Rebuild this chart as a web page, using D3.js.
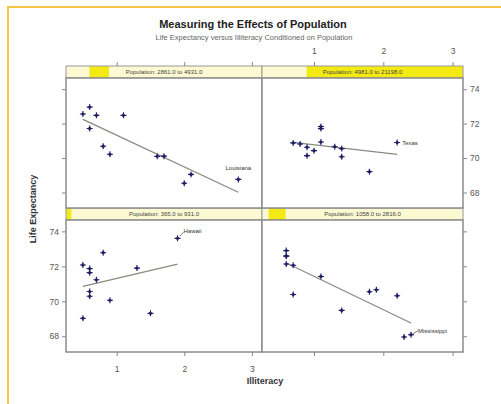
<!DOCTYPE html>
<html lang="en">
<head>
<meta charset="UTF-8" />
<title>Measuring the Effects of Population</title>
<script src="https://d3js.org/d3.v7.min.js"></script>
<style>
  body { margin: 0; background: #fff; }
  svg text { font-family: "Liberation Sans", Arial, sans-serif; }
</style>
</head>
<body>
<script>
// panel order follows lattice: bottom-left, bottom-right, top-left, top-right
const stripLabels = [
  "Population: 365.0 to 931.0",
  "Population: 1058.0 to 2816.0",
  "Population: 2861.0 to 4931.0",
  "Population: 4981.0 to 21198.0"
];
const popLow = [365, 1058, 2861, 4981];
const popHigh = [931, 2816, 4931, 21198];
const popRange = [365, 21198];

const illit1 = [1.5, 0.6, 0.6, 0.9, 0.5, 0.8, 0.5, 0.6, 0.7, 0.6, 1.9, 1.3];
const life1 = [69.31, 70.29, 71.64, 70.06, 69.03, 72.78, 72.08, 70.56, 71.23, 71.87, 73.60, 71.90];
const illit2 = [0.7, 2.2, 0.6, 0.6, 1.4, 1.9, 1.8, 0.6, 0.6, 2.4, 0.7, 1.1, 2.3];
const life2 = [70.39, 70.32, 72.90, 72.60, 69.48, 70.66, 70.55, 72.58, 72.13, 68.09, 72.06, 71.42, 67.96];
const illit3 = [0.5, 1.1, 1.6, 0.6, 2.1, 2.8, 0.6, 0.9, 1.7, 0.7, 0.8, 2.0];
const life3 = [72.56, 72.48, 70.10, 71.72, 69.05, 68.76, 72.96, 70.22, 70.11, 72.48, 70.69, 68.54];
const illit4 = [1.4, 0.7, 1.1, 1.1, 1.8, 0.9, 1.3, 0.8, 0.9, 1.0, 2.2, 1.1, 1.4];
const life4 = [70.08, 70.88, 71.83, 70.93, 69.21, 70.63, 70.66, 70.82, 70.14, 70.43, 70.90, 71.71, 70.55];

// one labelled state per panel
const labelNames = ["Hawaii", "Mississippi", "Louisiana", "Texas"];
const labelIndex = [10, 9, 5, 10];

const xTicks = [1, 2, 3];
const yTicks = [68, 70, 72, 74];

const groups = [[illit1, life1], [illit2, life2], [illit3, life3], [illit4, life4]];

const W = 501, H = 404;
const svg = d3.select("body").append("svg").attr("width", W).attr("height", H);

// outer frame (cut at right/bottom)
svg.append("rect").attr("x", 8).attr("y", 7).attr("width", 520).attr("height", 420)
  .attr("fill", "none").attr("stroke", "#f6c646").attr("stroke-width", 2);

svg.append("text").attr("x", 253).attr("y", 28).attr("text-anchor", "middle")
  .style("font-size", "11px").style("font-weight", "bold").attr("fill", "#222")
  .text("Measuring the Effects of Population");
svg.append("text").attr("x", 254).attr("y", 40).attr("text-anchor", "middle")
  .style("font-size", "7.5px").attr("fill", "#666")
  .text("Life Expectancy versus Illiteracy Conditioned on Population");

const cols = [[66, 262], [262, 463]];
const rows = [ // [stripTop, panelTop, panelBottom]
  [208, 220, 352],
  [66, 78, 208]
];
const xDomain = [0.25, 3.15];
const yDomain = [67.1, 74.65];

const sym = "#1f1f66";

groups.forEach((g, i) => {
  const c = cols[i % 2], r = rows[Math.floor(i / 2)];
  const x = d3.scaleLinear().domain(xDomain).range(c);
  const y = d3.scaleLinear().domain(yDomain).range([r[2], r[1]]);
  const p = d3.scaleLinear().domain(popRange).range(c);

  // strip
  svg.append("rect").attr("x", c[0]).attr("y", r[0]).attr("width", c[1] - c[0]).attr("height", r[1] - r[0])
    .attr("fill", "#fdf9d2");
  svg.append("rect").attr("x", p(popLow[i])).attr("y", r[0]).attr("width", p(popHigh[i]) - p(popLow[i]))
    .attr("height", r[1] - r[0]).attr("fill", "#f3ea14");
  svg.append("rect").attr("x", c[0]).attr("y", r[0]).attr("width", c[1] - c[0]).attr("height", r[1] - r[0])
    .attr("fill", "none").attr("stroke", "#999").attr("stroke-width", 1);
  svg.append("text").attr("x", (c[0] + c[1]) / 2).attr("y", (r[0] + r[1]) / 2 + 2)
    .attr("text-anchor", "middle").style("font-size", "6px").attr("fill", "#444")
    .text(stripLabels[i]);

  // panel box
  svg.append("rect").attr("x", c[0]).attr("y", r[1]).attr("width", c[1] - c[0]).attr("height", r[2] - r[1])
    .attr("fill", "#fff").attr("stroke", "#8c8c8c").attr("stroke-width", 1.5);

  // axes
  const left = i % 2 === 0, bottom = i < 2;
  const ya = left ? d3.axisLeft(y) : d3.axisRight(y);
  const yg = svg.append("g").attr("transform", `translate(${left ? c[0] : c[1]},0)`)
    .call(ya.tickValues(yTicks).tickFormat(d3.format("d")).tickSize(4).tickPadding(3));
  const xa = bottom ? d3.axisBottom(x) : d3.axisTop(x);
  const xg = svg.append("g").attr("transform", `translate(0,${bottom ? r[2] : r[0]})`)
    .call(xa.tickValues(xTicks).tickFormat(d3.format("d")).tickSize(4).tickPadding(bottom ? 10 : 8));
  [yg, xg].forEach(a => {
    a.select(".domain").remove();
    a.selectAll("line").attr("stroke", "#888");
    a.selectAll("text").style("font-size", "8.5px").attr("fill", "#555");
  });
  // lattice alternates labels: only bottom-left and top-right panels carry them
  if (i === 1 || i === 2) {
    yg.selectAll("text").remove();
    xg.selectAll("text").remove();
  }

  // least-squares line
  const xs = g[0], ys = g[1];
  const mx = d3.mean(xs), my = d3.mean(ys);
  const b = d3.sum(xs, (v, k) => (v - mx) * (ys[k] - my)) / d3.sum(xs, v => (v - mx) ** 2);
  const a0 = my - b * mx;
  const [xmin, xmax] = d3.extent(xs);
  svg.append("line").attr("x1", x(xmin)).attr("y1", y(a0 + b * xmin))
    .attr("x2", x(xmax)).attr("y2", y(a0 + b * xmax))
    .attr("stroke", "#8a8a80").attr("stroke-width", 1.3);

  // points
  const pts = svg.append("g");
  xs.forEach((v, k) => {
    const px = x(v), py = y(ys[k]);
    pts.append("circle").attr("cx", px).attr("cy", py).attr("r", 1.6).attr("fill", sym);
    pts.append("path").attr("d", `M${px - 3},${py}H${px + 3}M${px},${py - 3}V${py + 3}`)
      .attr("stroke", sym).attr("stroke-width", 1.1);
  });

  // label for the marked state
  const li = labelIndex[i], lx = x(xs[li]), ly = y(ys[li]);
  const lab = svg.append("g").style("font-size", "6px");
  if (i === 2) {
    lab.append("text").attr("x", lx).attr("y", ly - 9).attr("text-anchor", "middle").attr("fill", "#333")
      .text(labelNames[i]);
  } else if (i === 3) {
    lab.append("text").attr("x", lx + 5).attr("y", ly + 2).attr("fill", "#333").text(labelNames[i]);
  } else if (i === 0) {
    lab.append("line").attr("x1", lx + 2).attr("y1", ly - 2).attr("x2", lx + 6).attr("y2", ly - 6)
      .attr("stroke", "#555").attr("stroke-width", 0.8);
    lab.append("text").attr("x", lx + 6).attr("y", ly - 5).attr("fill", "#333").text(labelNames[i]);
  } else {
    lab.append("line").attr("x1", lx + 2).attr("y1", ly - 1).attr("x2", lx + 7).attr("y2", ly - 4)
      .attr("stroke", "#555").attr("stroke-width", 0.8);
    lab.append("text").attr("x", lx + 7).attr("y", ly - 2).attr("fill", "#333").text(labelNames[i]);
  }
});

// axis titles
svg.append("text").attr("x", 265).attr("y", 384).attr("text-anchor", "middle")
  .style("font-size", "9px").style("font-weight", "bold").attr("fill", "#333").text("Illiteracy");
svg.append("text").attr("transform", "translate(36,209) rotate(-90)").attr("text-anchor", "middle")
  .style("font-size", "9px").style("font-weight", "bold").attr("fill", "#333").text("Life Expectancy");
</script>
</body>
</html>
